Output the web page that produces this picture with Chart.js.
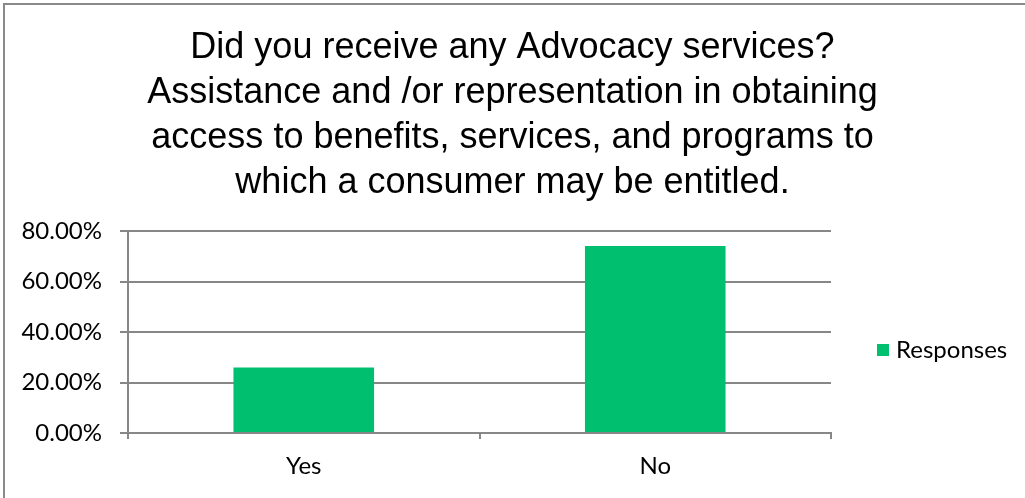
<!DOCTYPE html>
<html>
<head>
<meta charset="utf-8">
<title>Advocacy services</title>
<script src="https://cdn.jsdelivr.net/npm/chart.js@4.4.1/dist/chart.umd.min.js"></script>
<style>
  html, body { margin: 0; padding: 0; background: #ffffff; overflow: hidden; }
  canvas { display: block; }
</style>
</head>
<body>
<canvas id="chart" width="1025" height="498"></canvas>
<script>
// Survey answers and axis settings
const categories = ['Yes', 'No'];
const responses = [25.9, 74.1];
const seriesLabel = 'Responses';
const yTickValues = [0, 20, 40, 60, 80];
const titleLines = [
  'Did you receive any Advocacy services?',
  'Assistance and /or representation in obtaining',
  'access to benefits, services, and programs to',
  'which a consumer may be entitled.'
];

const barColor = '#00bf6f';
const gridColor = '#878787';
const labelFont = 'Lato, "Open Sans", sans-serif';

// Outer frame of the chart object
const framePlugin = {
  id: 'frame',
  beforeDraw(chart) {
    const ctx = chart.ctx;
    ctx.save();
    ctx.fillStyle = '#ffffff';
    ctx.fillRect(0, 0, chart.width, chart.height);
    ctx.strokeStyle = '#8a8a8a';
    ctx.lineWidth = 2;
    ctx.beginPath();
    ctx.moveTo(chart.width + 2, 4);
    ctx.lineTo(4, 4);
    ctx.lineTo(4, chart.height + 2);
    ctx.stroke();
    ctx.restore();
  }
};

// Title spans the whole canvas width, not only the plot column
const wideTitle = {
  id: 'wideTitle',
  afterLayout(chart) {
    const t = chart.titleBlock;
    if (t) {
      t.left = 0;
      t.right = chart.width;
      t.width = chart.width;
    }
  }
};

// Legend drawn at the right of the plot, vertically centred
const sideLegend = {
  id: 'sideLegend',
  afterDraw(chart) {
    const ctx = chart.ctx;
    const ds = chart.data.datasets[0];
    const boxX = 877, boxSize = 12;
    const cy = 350;
    ctx.save();
    ctx.fillStyle = ds.backgroundColor;
    ctx.fillRect(boxX, cy - boxSize / 2, boxSize, boxSize);
    ctx.fillStyle = '#000000';
    ctx.font = '24px ' + labelFont;
    ctx.textBaseline = 'middle';
    ctx.textAlign = 'left';
    ctx.fillText(ds.label, boxX + boxSize + 7, cy);
    ctx.restore();
  }
};

new Chart(document.getElementById('chart'), {
  type: 'bar',
  data: {
    labels: categories,
    datasets: [{
      label: seriesLabel,
      data: responses,
      backgroundColor: barColor,
      borderWidth: 0,
      barPercentage: 0.4,
      categoryPercentage: 1.0
    }]
  },
  options: {
    responsive: false,
    animation: false,
    devicePixelRatio: 1,
    layout: { padding: { left: 0, right: 194, top: 0, bottom: 0 } },
    plugins: {
      legend: { display: false },
      tooltip: { enabled: false },
      title: {
        display: true,
        text: titleLines,
        color: '#000000',
        font: { family: '"Liberation Sans", Arial, sans-serif', size: 36, weight: 'normal', lineHeight: 1.25 },
        padding: { top: 26, bottom: 25 }
      }
    },
    scales: {
      x: {
        grid: {
          display: true,
          offset: true,
          drawOnChartArea: false,
          drawTicks: true,
          tickLength: 6,
          color: gridColor,
          lineWidth: 2
        },
        border: { display: true, color: gridColor, width: 2 },
        ticks: {
          color: '#000000',
          font: { family: labelFont, size: 24 },
          padding: 13
        },
        afterFit(scale) { scale.height = 65; }
      },
      y: {
        min: 0,
        max: 80,
        afterBuildTicks(scale) { scale.ticks = yTickValues.map(v => ({ value: v })); },
        grid: {
          color: gridColor,
          lineWidth: 2,
          drawTicks: true,
          tickLength: 8
        },
        border: { display: true, color: gridColor, width: 2 },
        ticks: {
          color: '#000000',
          font: { family: labelFont, size: 24 },
          padding: 18,
          callback: v => v.toFixed(2) + '%'
        },
        afterFit(scale) { scale.width = 128; }
      }
    }
  },
  plugins: [framePlugin, wideTitle, sideLegend]
});
</script>
</body>
</html>
